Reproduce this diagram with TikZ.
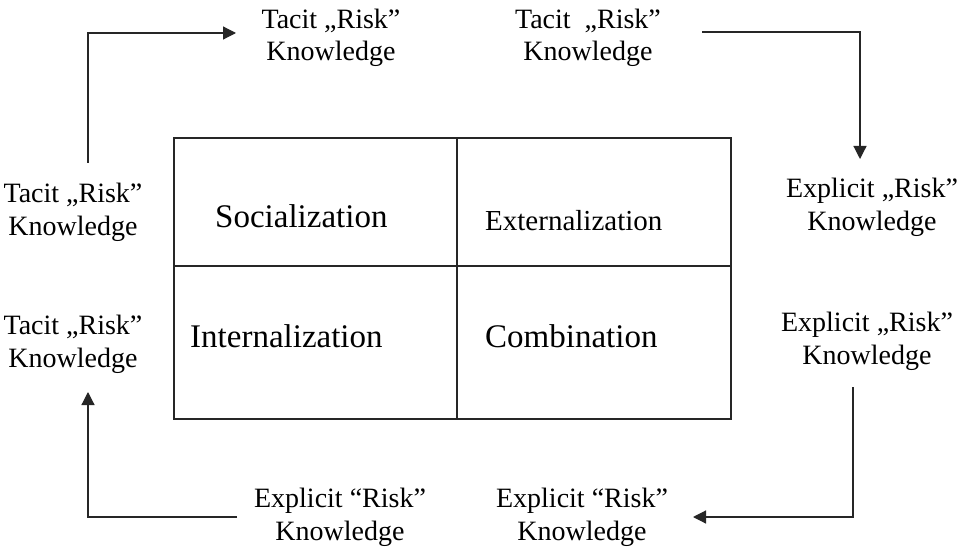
\documentclass[tikz,border=0pt]{standalone}
\usepackage{fontspec}
\setmainfont{Liberation Serif}
\usetikzlibrary{arrows.meta}
\begin{document}
\begin{tikzpicture}[x=1pt,y=-1pt,
  know/.style={anchor=base,align=center,inner sep=0pt,
    font=\fontsize{28}{32.5}\selectfont},
  mode/.style={anchor=base west,inner sep=0pt,
    font=\fontsize{33}{38}\selectfont},
  grid/.style={draw=black!85,line width=1.2pt},
  flow/.style={draw=black!85,line width=1.2pt,
    -{Triangle[length=13pt,width=13pt]}}]
  \useasboundingbox[fill=white] (0,0) rectangle (958,548);

  % matrix of the four conversion modes
  \draw[grid] (174,138) rectangle (731,419);
  \draw[grid] (457,138) -- (457,419);
  \draw[grid] (174,266) -- (731,266);
  \node[mode] (soc) at (215,227) {Socialization};
  \node[mode,font=\fontsize{29}{34}\selectfont] (ext) at (485,230) {Externalization};
  \node[mode] (int) at (190,347) {Internalization};
  \node[mode] (com) at (485,347) {Combination};

  % knowledge labels around the matrix (placed by the last line's baseline)
  \node[know] (tl) at (331,61) {Tacit „Risk”\\Knowledge};
  \node[know] (tr) at (588,61) {Tacit\ \ „Risk”\\Knowledge};
  \node[know] (ru) at (872,230) {Explicit „Risk”\\Knowledge};
  \node[know] (rl) at (867,364) {Explicit „Risk”\\Knowledge};
  \node[know] (br) at (582,540) {Explicit “Risk”\\Knowledge};
  \node[know] (bl) at (340,540) {Explicit “Risk”\\Knowledge};
  \node[know] (lu) at (73,235) {Tacit „Risk”\\Knowledge};
  \node[know] (ll) at (73,367) {Tacit „Risk”\\Knowledge};

  % connector end points
  \coordinate (s1) at (88,163);  \coordinate (e1) at (236,33);
  \coordinate (s2) at (702,32);  \coordinate (e2) at (860,159);
  \coordinate (s3) at (853,387); \coordinate (e3) at (693,517);
  \coordinate (s4) at (237,517); \coordinate (e4) at (88,392);

  % cycle of knowledge conversion
  \draw[flow] (s1) |- (e1);
  \draw[flow] (s2) -| (e2);
  \draw[flow] (s3) |- (e3);
  \draw[flow] (s4) -| (e4);
\end{tikzpicture}
\end{document}
